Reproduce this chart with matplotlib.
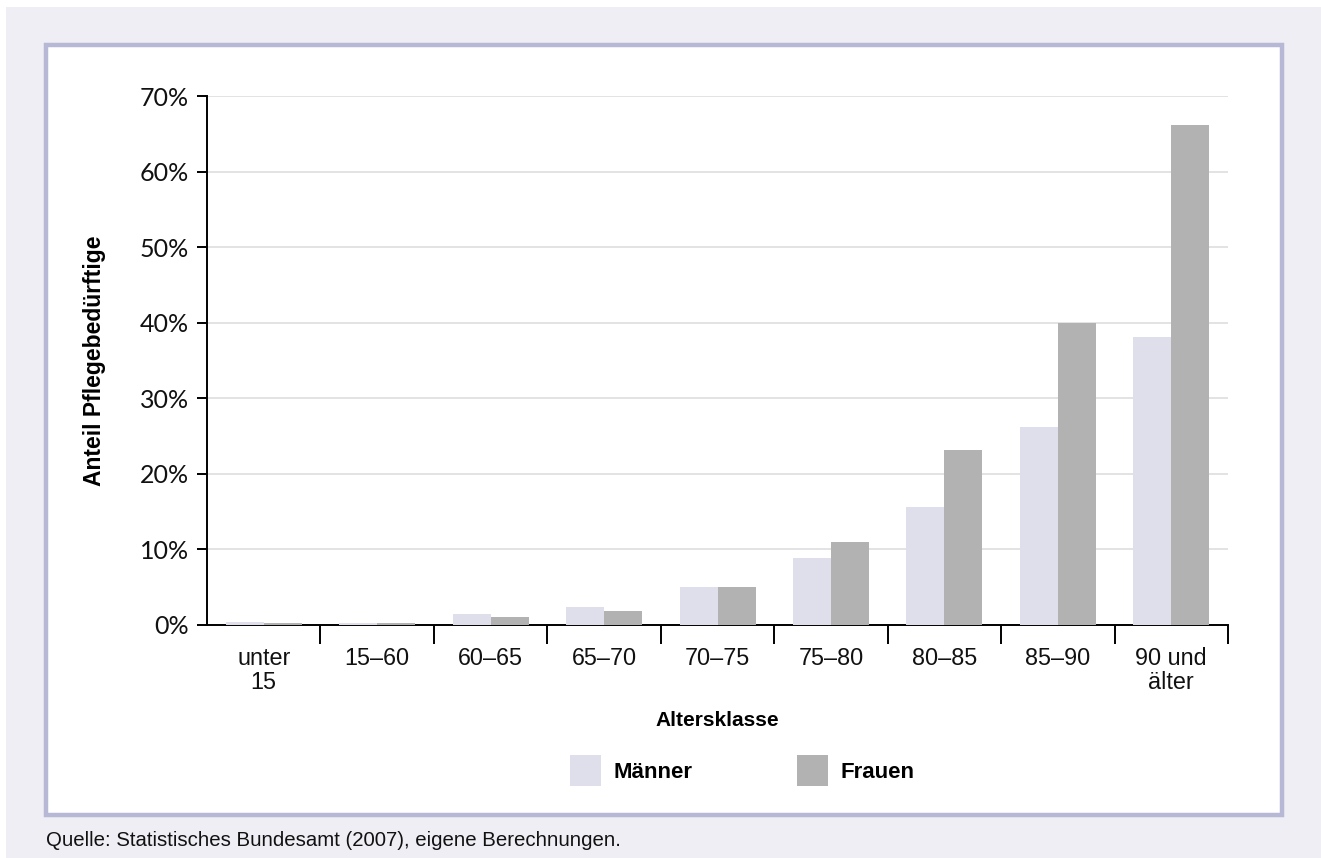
import matplotlib
matplotlib.use("Agg")
import matplotlib.pyplot as plt
from matplotlib.patches import Rectangle, Patch
import numpy as np

categories = ["unter\n15", "15–60", "60–65", "65–70", "70–75", "75–80", "80–85", "85–90", "90 und\nälter"]
maenner = [0.4, 0.3, 1.5, 2.4, 5.0, 8.9, 15.6, 26.2, 38.1]
frauen = [0.3, 0.2, 1.1, 1.9, 5.0, 11.0, 23.2, 39.9, 66.2]
y_ticks = [0, 10, 20, 30, 40, 50, 60, 70]
y_labels = ["0%", "10%", "20%", "30%", "40%", "50%", "60%", "70%"]

W, H = 1321, 858
DPI = 100
fig = plt.figure(figsize=(W / DPI, H / DPI), dpi=DPI, facecolor="white")

def px(x, y):
    return x / W, 1 - y / H

# grey background region
bg = Rectangle((6 / W, 0), 1 - 6 / W, 1 - 7 / H, transform=fig.transFigure,
               facecolor="#EEEEF4", edgecolor="none", zorder=0)
fig.patches.append(bg)
# white panel with lavender border
x0, y0 = 45.5, 45
x1, y1 = 1281.5, 814.5
panel = Rectangle((x0 / W, 1 - y1 / H), (x1 - x0) / W, (y1 - y0) / H,
                  transform=fig.transFigure, facecolor="white",
                  edgecolor="#B6B8D6", linewidth=3.2, zorder=1)
fig.patches.append(panel)

ax = fig.add_axes([207 / W, 1 - 625 / H, 1021 / W, 529 / H])
ax.set_facecolor("none")
ax.set_zorder(2)

n = len(categories)
x = np.arange(n) + 0.5
w = 38 / (1021 / 9)
ax.bar(x - w / 2, maenner, width=w, color="#DFDFEB", zorder=3, linewidth=0)
ax.bar(x + w / 2, frauen, width=w, color="#B2B2B2", zorder=3, linewidth=0)

ax.set_xlim(0, n)
ax.set_ylim(0, 70)

ax.set_yticks(y_ticks)
ax.set_yticklabels(y_labels, family=["Lato", "DejaVu Sans"], fontsize=18, color="#111111")
ax.tick_params(axis="y", length=7.2, width=1.4, pad=6, color="black")
ax.grid(axis="y", color="#DEDEDE", linewidth=1.2, zorder=0)
ax.set_axisbelow(True)

ax.set_xticks(np.arange(1, n + 1))
ax.set_xticklabels([])
ax.tick_params(axis="x", which="major", length=13.7, width=1.4, color="black")
ax.set_xticks(x, minor=True)
ax.set_xticklabels(categories, minor=True, family=["Liberation Sans", "DejaVu Sans"],
                   fontsize=16.8, color="#111111", linespacing=1.05)
ax.tick_params(axis="x", which="minor", length=0, pad=16)

for s in ["top", "right"]:
    ax.spines[s].set_visible(False)
for s in ["left", "bottom"]:
    ax.spines[s].set_linewidth(1.4)
    ax.spines[s].set_color("black")

ax.set_xlabel("Altersklasse", family=["Liberation Sans", "DejaVu Sans"], fontsize=15,
              fontweight="bold", labelpad=12)
ax.set_ylabel("Anteil Pflegebedürftige", family=["Liberation Sans", "DejaVu Sans"],
              fontsize=16.5, fontweight="bold", labelpad=24)

handles = [Patch(facecolor="#DFDFEB", edgecolor="none", label="Männer"),
           Patch(facecolor="#B2B2B2", edgecolor="none", label="Frauen")]
leg = fig.legend(handles=handles, loc="upper left", bbox_to_anchor=px(570, 755),
                 ncol=2, frameon=False, borderpad=0, borderaxespad=0,
                 handlelength=1.4, handleheight=1.75, handletextpad=0.55,
                 columnspacing=4.7,
                 prop={"family": ["Liberation Sans", "DejaVu Sans"], "size": 16, "weight": "bold"})

fig.text(46 / W, 1 - 840 / H, "Quelle: Statistisches Bundesamt (2007), eigene Berechnungen.",
         family=["Liberation Sans", "DejaVu Sans"], fontsize=14.7,
         va="center", ha="left", color="#111111")

fig.savefig("out.png", dpi=DPI, facecolor="white")
